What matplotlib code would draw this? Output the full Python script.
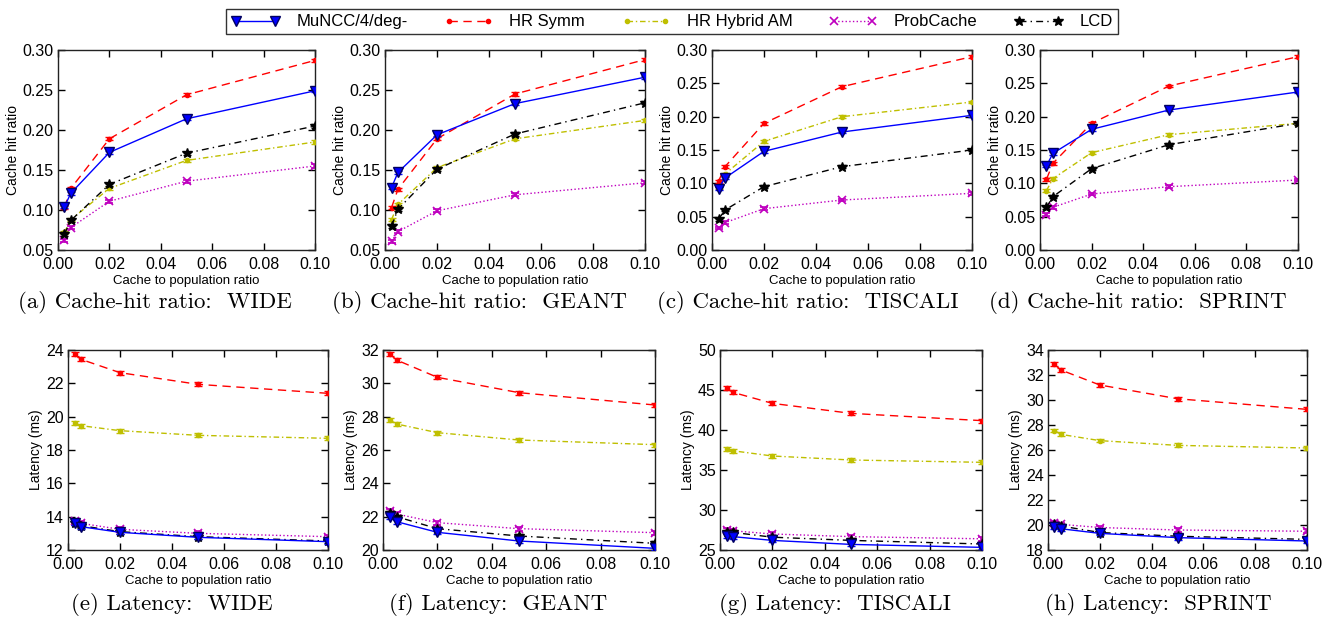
import numpy as np
import matplotlib
matplotlib.use("Agg")
import matplotlib.pyplot as plt
from matplotlib.lines import Line2D

plt.rcParams['font.family'] = ['Liberation Sans', 'DejaVu Sans']
plt.rcParams['axes.unicode_minus'] = False

# x values: cache to population ratio
x = [0.0025, 0.005, 0.02, 0.05, 0.1]

series = ["MuNCC/4/deg-", "HR Symm", "HR Hybrid AM", "ProbCache", "LCD"]

# cache hit ratio per topology
hit_wide = {
    "MuNCC/4/deg-": [0.104, 0.121, 0.172, 0.214, 0.249],
    "HR Symm": [0.103, 0.127, 0.189, 0.244, 0.287],
    "HR Hybrid AM": [0.072, 0.088, 0.127, 0.162, 0.185],
    "ProbCache": [0.062, 0.078, 0.111, 0.136, 0.155],
    "LCD": [0.070, 0.087, 0.132, 0.171, 0.205],
}
hit_geant = {
    "MuNCC/4/deg-": [0.128, 0.147, 0.194, 0.233, 0.266],
    "HR Symm": [0.103, 0.126, 0.189, 0.245, 0.288],
    "HR Hybrid AM": [0.088, 0.107, 0.153, 0.189, 0.212],
    "ProbCache": [0.061, 0.073, 0.099, 0.119, 0.134],
    "LCD": [0.080, 0.101, 0.151, 0.195, 0.234],
}
hit_tiscali = {
    "MuNCC/4/deg-": [0.092, 0.108, 0.148, 0.177, 0.202],
    "HR Symm": [0.103, 0.125, 0.190, 0.245, 0.290],
    "HR Hybrid AM": [0.094, 0.114, 0.163, 0.200, 0.222],
    "ProbCache": [0.033, 0.041, 0.062, 0.075, 0.085],
    "LCD": [0.046, 0.060, 0.095, 0.125, 0.150],
}
hit_sprint = {
    "MuNCC/4/deg-": [0.126, 0.145, 0.181, 0.210, 0.237],
    "HR Symm": [0.106, 0.130, 0.190, 0.246, 0.290],
    "HR Hybrid AM": [0.089, 0.107, 0.146, 0.173, 0.190],
    "ProbCache": [0.053, 0.064, 0.084, 0.095, 0.105],
    "LCD": [0.064, 0.080, 0.122, 0.158, 0.190],
}

# latency (ms) per topology
lat_wide = {
    "MuNCC/4/deg-": [13.60, 13.40, 13.06, 12.76, 12.50],
    "HR Symm": [23.74, 23.44, 22.64, 21.94, 21.40],
    "HR Hybrid AM": [19.60, 19.46, 19.16, 18.88, 18.70],
    "ProbCache": [13.74, 13.60, 13.24, 13.00, 12.80],
    "LCD": [13.64, 13.46, 13.10, 12.80, 12.54],
}
lat_geant = {
    "MuNCC/4/deg-": [22.00, 21.70, 21.06, 20.54, 20.10],
    "HR Symm": [31.76, 31.40, 30.36, 29.44, 28.70],
    "HR Hybrid AM": [27.80, 27.56, 27.04, 26.60, 26.32],
    "ProbCache": [22.34, 22.16, 21.64, 21.28, 21.04],
    "LCD": [22.24, 22.00, 21.28, 20.84, 20.40],
}
lat_tiscali = {
    "MuNCC/4/deg-": [26.80, 26.67, 26.20, 25.70, 25.33],
    "HR Symm": [45.20, 44.70, 43.33, 42.08, 41.17],
    "HR Hybrid AM": [37.60, 37.40, 36.75, 36.25, 35.96],
    "ProbCache": [27.50, 27.40, 27.00, 26.67, 26.40],
    "LCD": [27.30, 27.20, 26.60, 26.20, 25.75],
}
lat_sprint = {
    "MuNCC/4/deg-": [19.87, 19.70, 19.33, 18.99, 18.72],
    "HR Symm": [32.85, 32.40, 31.20, 30.10, 29.25],
    "HR Hybrid AM": [27.55, 27.25, 26.75, 26.37, 26.16],
    "ProbCache": [20.20, 20.05, 19.80, 19.60, 19.50],
    "LCD": [20.05, 19.92, 19.40, 19.10, 18.85],
}

captions = [
    "(a) Cache-hit ratio:  WIDE", "(b) Cache-hit ratio:  GEANT",
    "(c) Cache-hit ratio:  TISCALI", "(d) Cache-hit ratio:  SPRINT",
    "(e) Latency:  WIDE", "(f) Latency:  GEANT",
    "(g) Latency:  TISCALI", "(h) Latency:  SPRINT",
]

styles = {
    "MuNCC/4/deg-": dict(color='b', ls='-', marker='v', ms=7, mec='#000060', zorder=5),
    "HR Symm": dict(color='r', ls=(0, (6, 4)), marker='.', ms=6, zorder=4),
    "HR Hybrid AM": dict(color='#bfbf00', ls=(0, (4, 2, 1, 2)), marker='.', ms=6, zorder=3),
    "ProbCache": dict(color='#bf00bf', ls=':', marker='x', ms=6, mew=1.2, zorder=2),
    "LCD": dict(color='k', ls=(0, (5, 3, 1, 3)), marker='*', ms=7, zorder=4),
}

W, H = 1326, 622
fig = plt.figure(figsize=(W / 100, H / 100), dpi=100)


def px_axes(l, t, r, b):
    return fig.add_axes([l / W, 1 - b / H, (r - l) / W, (b - t) / H])


rects = [
    (58, 50, 315, 250), (385, 50, 645, 250), (712, 50, 972, 250), (1040, 50, 1298, 250),
    (68, 350, 328, 550), (383, 350, 655, 550), (720, 350, 982, 550), (1048, 350, 1307, 550),
]
cap_x = [155, 479, 808, 1138, 172, 498, 835, 1158]
cap_y = [302, 302, 302, 302, 604, 604, 604, 604]

datasets = [hit_wide, hit_geant, hit_tiscali, hit_sprint,
            lat_wide, lat_geant, lat_tiscali, lat_sprint]
ylims = [(0.05, 0.30), (0.05, 0.30), (0.0, 0.30), (0.0, 0.30),
         (12, 24), (20, 32), (25, 50), (18, 34)]
ysteps = [0.05, 0.05, 0.05, 0.05, 2, 2, 5, 2]
errs = [0.002, 0.002, 0.002, 0.002, 0.12, 0.12, 0.25, 0.15]

for i, data in enumerate(datasets):
    ax = px_axes(*rects[i])
    for name in series:
        st = dict(styles[name])
        ax.errorbar(x, data[name], yerr=errs[i], capsize=3, elinewidth=1,
                    capthick=1, lw=1, **st)
    ax.set_xlim(0, 0.1)
    ax.set_ylim(*ylims[i])
    lo, hi = ylims[i]
    ax.set_yticks(np.arange(lo, hi + ysteps[i] / 2, ysteps[i]))
    ax.set_xticks(np.arange(0, 0.1001, 0.02))
    ax.xaxis.set_major_formatter(matplotlib.ticker.FormatStrFormatter('%.2f'))
    if i < 4:
        ax.yaxis.set_major_formatter(matplotlib.ticker.FormatStrFormatter('%.2f'))
        ax.set_ylabel("Cache hit ratio", fontsize=10, labelpad=2)
    else:
        ax.yaxis.set_major_formatter(matplotlib.ticker.FormatStrFormatter('%d'))
        ax.set_ylabel("Latency (ms)", fontsize=10, labelpad=2)
    ax.set_xlabel("Cache to population ratio", fontsize=9.5, labelpad=2)
    ax.tick_params(direction='in', top=True, right=True, labelsize=11.5,
                   length=5, width=1)
    ax.tick_params(axis='x', pad=5)
    ax.tick_params(axis='y', pad=3)
    for sp in ax.spines.values():
        sp.set_linewidth(1)
        sp.set_color('#222222')
    fig.text(cap_x[i] / W, 1 - cap_y[i] / H, captions[i], family='cmr10',
             fontsize=16.5, ha='center', va='center')

handles = []
for name in series:
    st = dict(styles[name])
    st.pop('zorder')
    handles.append(Line2D([], [], lw=1, **st))
fig.legend(handles, series, loc='upper center', bbox_to_anchor=(672 / W, 1 - 1 / H),
           ncol=5, fontsize=12, frameon=True, fancybox=False, edgecolor='k',
           handlelength=2.9, handletextpad=1.0, columnspacing=2.2,
           borderpad=0.3, numpoints=2)

fig.savefig("out.png", dpi=100)
